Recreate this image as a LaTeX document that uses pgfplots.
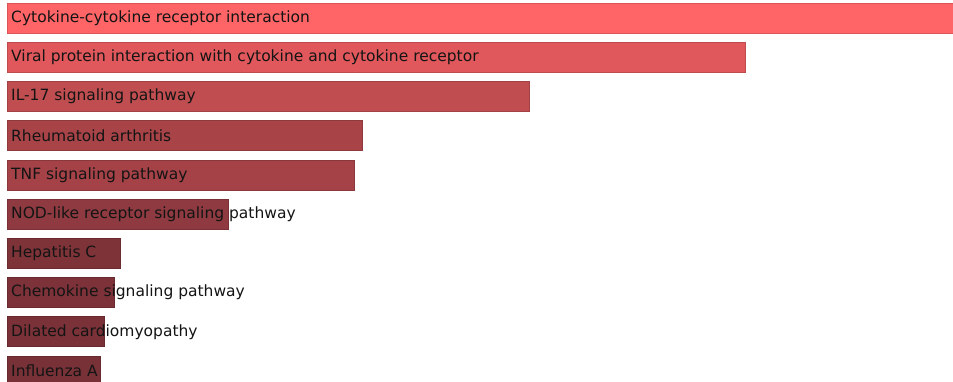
\documentclass[border=0pt]{standalone}
\usepackage{pgfplots}
\pgfplotsset{compat=1.18}
\usepackage{fontspec}
\setmainfont{DejaVu Sans}
\definecolor{c1}{RGB}{255,100,102}
\definecolor{c2}{RGB}{224,88,92}
\definecolor{c3}{RGB}{192,78,80}
\definecolor{c4}{RGB}{168,68,72}
\definecolor{c5}{RGB}{164,66,71}
\definecolor{c6}{RGB}{142,58,64}
\definecolor{c7}{RGB}{126,51,56}
\definecolor{c8}{RGB}{124,50,56}
\definecolor{c9}{RGB}{122,49,55}
\definecolor{c10}{RGB}{120,49,55}
\begin{document}
\begin{tikzpicture}
\begin{axis}[
  scale only axis, width=953bp, height=382bp,
  at={(0,0)}, anchor=south west,
  xmin=-7, xmax=946,
  ymin=0.541, ymax=10.28, y dir=reverse,
  hide axis, clip=true,
  xbar, bar width=30bp, bar shift=0pt,
  every axis plot/.append style={line width=0.6pt},
]
\addplot[fill=c1, draw=c1!85!black] coordinates {(960,1)};
\addplot[fill=c2, draw=c2!85!black] coordinates {(738,2)};
\addplot[fill=c3, draw=c3!85!black] coordinates {(522,3)};
\addplot[fill=c4, draw=c4!85!black] coordinates {(355,4)};
\addplot[fill=c5, draw=c5!85!black] coordinates {(347,5)};
\addplot[fill=c6, draw=c6!85!black] coordinates {(221,6)};
\addplot[fill=c7, draw=c7!85!black] coordinates {(113,7)};
\addplot[fill=c8, draw=c8!85!black] coordinates {(107,8)};
\addplot[fill=c9, draw=c9!85!black] coordinates {(97,9)};
\addplot[fill=c10, draw=c10!85!black] coordinates {(93,10)};
\begin{scope}[every node/.style={anchor=west, font=\fontsize{15.5bp}{18bp}\selectfont, text=black!92, inner sep=0pt}]
\node at (axis cs:4,1) {Cytokine-cytokine receptor interaction};
\node at (axis cs:4,2) {Viral protein interaction with cytokine and cytokine receptor};
\node at (axis cs:4,3) {IL-17 signaling pathway};
\node at (axis cs:4,4) {Rheumatoid arthritis};
\node at (axis cs:4,5) {TNF signaling pathway};
\node at (axis cs:4,6) {NOD-like receptor signaling pathway};
\node at (axis cs:4,7) {Hepatitis C};
\node at (axis cs:4,8) {Chemokine signaling pathway};
\node at (axis cs:4,9) {Dilated cardiomyopathy};
\node at (axis cs:4,10) {Influenza A};
\end{scope}
\end{axis}
\pgfresetboundingbox
\path[use as bounding box] (0,0) rectangle (953bp,382bp);
\end{tikzpicture}
\end{document}
